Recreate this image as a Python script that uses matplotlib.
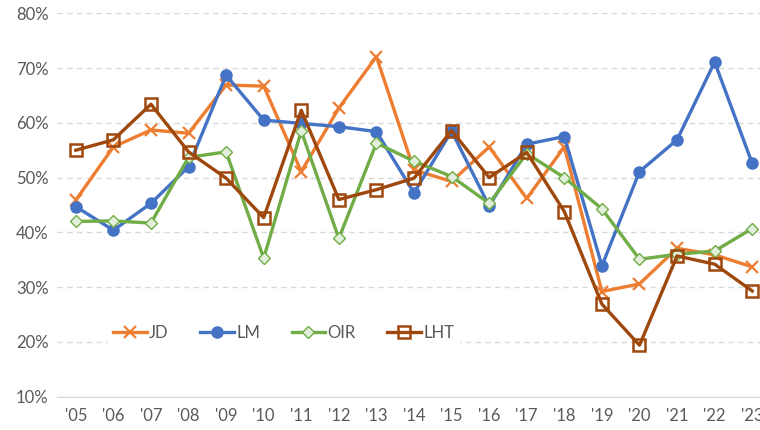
import matplotlib
matplotlib.use('Agg')
import matplotlib.pyplot as plt
from matplotlib.ticker import PercentFormatter

years = ["'05", "'06", "'07", "'08", "'09", "'10", "'11", "'12", "'13", "'14",
         "'15", "'16", "'17", "'18", "'19", "'20", "'21", "'22", "'23"]
jd = [45.9, 55.6, 58.7, 58.1, 66.9, 66.7, 51.1, 62.7, 72.1, 51.4,
      49.3, 55.6, 46.2, 55.6, 29.2, 30.6, 37.1, 35.9, 33.7]
lm = [44.7, 40.4, 45.3, 52.0, 68.7, 60.5, 59.9, 59.3, 58.4, 47.2,
      58.5, 44.8, 56.1, 57.5, 33.9, 51.1, 56.9, 71.1, 52.6]
oir = [42.0, 42.1, 41.7, 53.7, 54.7, 35.3, 58.5, 38.9, 56.3, 53.0,
       50.2, 45.3, 54.4, 50.0, 44.3, 35.1, 36.0, 36.6, 40.7]
lht = [55.0, 56.9, 63.4, 54.7, 49.9, 42.7, 62.3, 46.0, 47.8, 49.9,
       58.6, 50.0, 54.6, 43.8, 26.9, 19.4, 35.7, 34.2, 29.3]

plt.rcParams['font.family'] = ['Lato', 'DejaVu Sans']
fig = plt.figure(figsize=(7.6, 4.3), dpi=100)
ax = fig.add_axes([0.075, 0.0774, 0.9395, 0.8917])

x = range(len(years))
ax.plot(x, jd, color='#ED7D31', lw=2.4, marker='x', ms=9, mew=1.6, label='JD')
ax.plot(x, lm, color='#4472C4', lw=2.4, marker='o', ms=8, label='LM')
ax.plot(x, oir, color='#70AD47', lw=2.4, marker='D', ms=6.5, mfc='#E2EFDA', mec='#70AD47', mew=1, label='OIR')
ax.plot(x, lht, color='#9E480E', lw=2.4, marker='s', ms=9, mfc='none', mec='#9E480E', mew=1.8, label='LHT')

ax.set_xlim(-0.5, len(years) - 0.5)
ax.set_ylim(10, 80)
ax.set_yticks(range(10, 81, 10))
ax.yaxis.set_major_formatter(PercentFormatter(decimals=0))
ax.set_xticks(list(x))
ax.set_xticklabels(years)
ax.tick_params(length=0, labelsize=12, colors='#595959')
ax.tick_params(axis='x', pad=8)
ax.tick_params(axis='y', pad=6)
ax.grid(axis='y', color='#D9D9D9', ls=(0, (4, 3)), lw=1)
for s in ['top', 'right', 'left']:
    ax.spines[s].set_visible(False)
ax.spines['bottom'].set_color('#D9D9D9')
ax.set_axisbelow(True)

leg = ax.legend(loc='center left', bbox_to_anchor=(0.06, 0.166), ncol=4, frameon=True,
                framealpha=1, edgecolor='white', fontsize=12, handlelength=2.0,
                columnspacing=1.9, handletextpad=0.15, borderpad=0.3)
for t in leg.get_texts():
    t.set_color('#595959')

fig.savefig('out.png', dpi=100)
